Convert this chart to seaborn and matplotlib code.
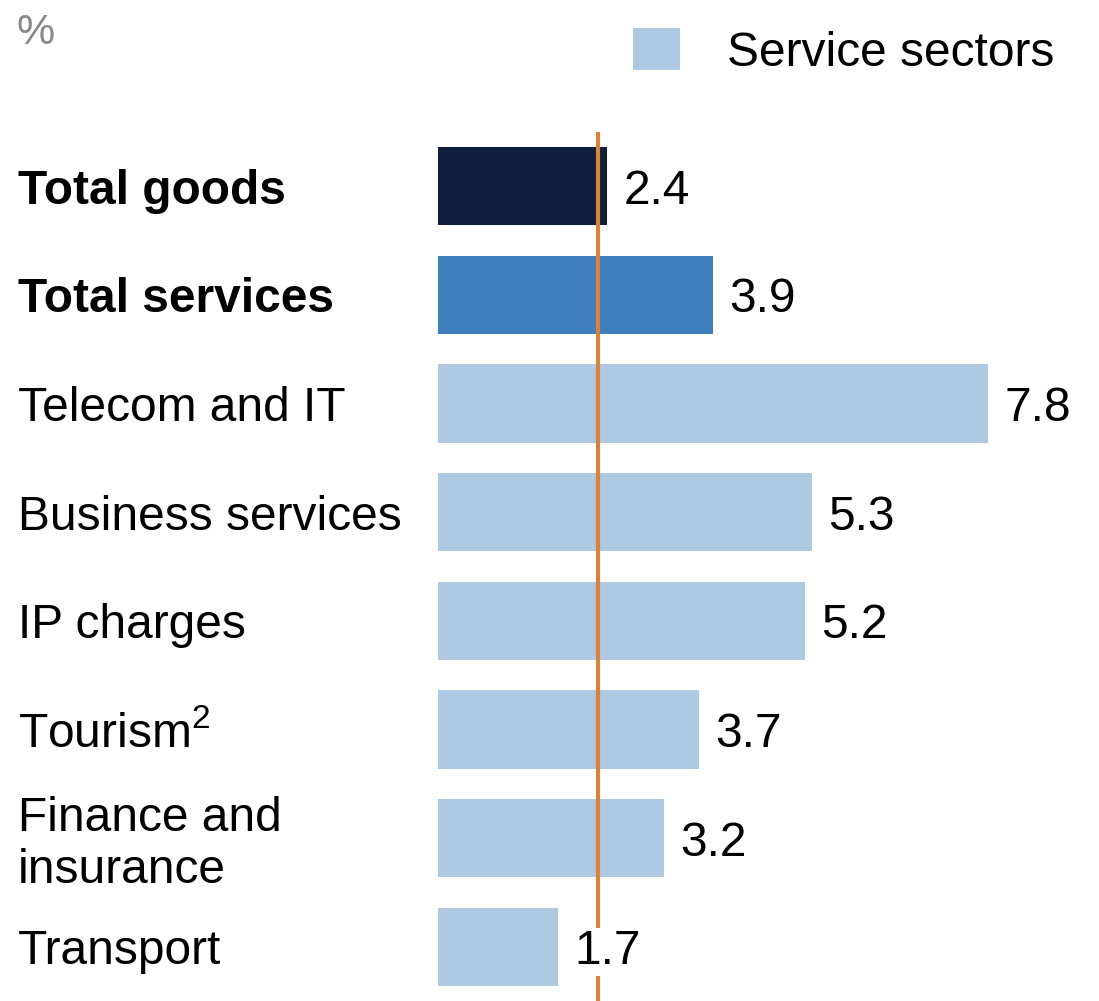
import matplotlib
matplotlib.use("Agg")
import matplotlib.pyplot as plt
import matplotlib.transforms as mtransforms
from matplotlib.patches import Patch
import seaborn as sns
import pandas as pd

sns.set_theme(style="white")
plt.rcParams['font.family'] = ['Liberation Sans', 'DejaVu Sans']
plt.rcParams['mathtext.fontset'] = 'custom'
plt.rcParams['mathtext.rm'] = 'Liberation Sans'

categories = ["Total goods", "Total services", "Telecom and IT", "Business services",
              "IP charges", "Tourism", "Finance and\ninsurance", "Transport"]
display_labels = ["Total goods", "Total services", "Telecom and IT", "Business services",
                  "IP charges", r"Tourism$^{\mathregular{2}}$", "Finance and\ninsurance", "Transport"]
values = [2.4, 3.9, 7.8, 5.3, 5.2, 3.7, 3.2, 1.7]
bold = [True, True, False, False, False, False, False, False]
colors = ["#101e3e", "#3f7fbe", "#aec9e2", "#aec9e2", "#aec9e2", "#aec9e2", "#aec9e2", "#aec9e2"]
reference_line = 2.27
legend_label = "Service sectors"
unit_label = "%"

df = pd.DataFrame({"category": categories, "value": values})

W, H = 1099, 1001
PX_PER_UNIT = 70.5
fig = plt.figure(figsize=(W / 100, H / 100), dpi=100)
ax = fig.add_axes([438 / W, 0, (W - 438) / W, 869 / H])

sns.barplot(data=df, x="value", y="category", hue="category", palette=colors,
            legend=False, width=0.72, orient="h", ax=ax, saturation=1)

ax.set_xlim(0, (W - 438) / PX_PER_UNIT)
ax.set_ylim(7.5, -0.5)
ax.axvline(reference_line, color="#d9823b", lw=3, zorder=1)
for p in ax.patches:
    p.set_zorder(0)
    p.set_edgecolor("none")

fs = 34.5
for i, v in enumerate(values):
    ax.text(v + 0.23, i, f"{v:.1f}", va="center_baseline", ha="left", fontsize=fs, color="black",
            zorder=5, bbox=dict(facecolor="white", edgecolor="none", pad=1))

trans = mtransforms.blended_transform_factory(fig.transFigure, ax.transData)
for i, lab in enumerate(display_labels):
    ax.text(18 / W, i + (0.06 if "\n" in lab else 0), lab, transform=trans,
            va="center_baseline" if "\n" not in lab else "center", ha="left", fontsize=fs,
            fontweight="bold" if bold[i] else "normal", color="black",
            linespacing=1.2, clip_on=False)

ax.set_xticks([])
ax.set_yticks([])
ax.set_xlabel("")
ax.set_ylabel("")
for s in ax.spines.values():
    s.set_visible(False)

fig.text(16 / W, 1 - 13 / H, unit_label, fontsize=31, color="#8a8a8a", va="top", ha="left")

leg = fig.legend(handles=[Patch(facecolor="#aec9e2", edgecolor="none", label=legend_label)],
                 loc="center left", bbox_to_anchor=(633 / W, 1 - 52 / H), frameon=False,
                 fontsize=fs, handlelength=0.98, handleheight=0.98, handletextpad=0.98,
                 borderpad=0, borderaxespad=0)
for t in leg.get_texts():
    t.set_color("black")

fig.savefig("out.png", dpi=100)
